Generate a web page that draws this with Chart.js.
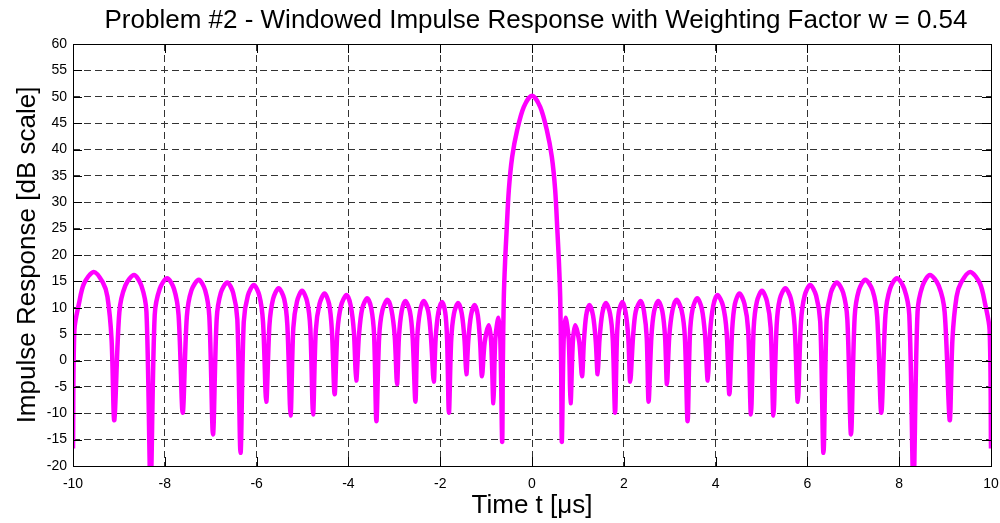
<!DOCTYPE html>
<html>
<head>
<meta charset="utf-8">
<script src="https://cdn.jsdelivr.net/npm/chart.js@4/dist/chart.umd.min.js"></script>
<style>
  html, body { margin: 0; padding: 0; background: #fff; }
  #wrap { width: 1000px; height: 523px; }
</style>
</head>
<body>
<div id="wrap"><canvas id="impulse"></canvas></div>
<script>
// values (time in microseconds, response in dB)
const timeUs = [
  -10.00, -9.97, -9.87, -9.76, -9.55, -9.35, -9.25, -9.16, -9.10,
  -8.99, -8.86, -8.67, -8.51, -8.40, -8.31,
  -8.22, -8.11, -7.95, -7.80, -7.70, -7.61,
  -7.52, -7.42, -7.26, -7.12, -7.03, -6.95,
  -6.87, -6.78, -6.64, -6.51, -6.42, -6.35,
  -6.28, -6.19, -6.06, -5.94, -5.86, -5.79,
  -5.72, -5.64, -5.52, -5.40, -5.33, -5.26,
  -5.20, -5.12, -5.01, -4.90, -4.83, -4.77,
  -4.71, -4.63, -4.52, -4.42, -4.36, -4.30,
  -4.24, -4.16, -4.04, -3.95, -3.88, -3.83,
  -3.77, -3.70, -3.59, -3.50, -3.44, -3.39,
  -3.33, -3.26, -3.15, -3.06, -2.99, -2.94,
  -2.90, -2.84, -2.76, -2.66, -2.60, -2.54,
  -2.50, -2.44, -2.36, -2.26, -2.20, -2.14,
  -2.10, -2.04, -1.96, -1.89, -1.85, -1.81,
  -1.76, -1.70, -1.61, -1.53, -1.47, -1.43,
  -1.39, -1.33, -1.25, -1.18, -1.13, -1.09,
  -1.03, -0.94, -0.89, -0.84, -0.80, -0.73, -0.69, -0.65,
  -0.635, -0.614, -0.585, -0.556, -0.505, -0.432, -0.323, -0.178, 0,
  0.178, 0.323, 0.432, 0.505, 0.556, 0.585, 0.614, 0.635,
  0.65, 0.69, 0.73, 0.80, 0.84, 0.89, 0.94, 1.03, 1.09,
  1.13, 1.18, 1.25, 1.33, 1.39, 1.43,
  1.47, 1.53, 1.61, 1.70, 1.76, 1.81,
  1.85, 1.89, 1.97, 2.04, 2.10, 2.14,
  2.20, 2.26, 2.37, 2.44, 2.50, 2.54,
  2.60, 2.66, 2.75, 2.84, 2.90, 2.94,
  2.99, 3.06, 3.15, 3.26, 3.33, 3.39,
  3.44, 3.50, 3.60, 3.70, 3.77, 3.83,
  3.88, 3.95, 4.04, 4.16, 4.24, 4.30,
  4.36, 4.42, 4.52, 4.63, 4.71, 4.77,
  4.83, 4.90, 5.01, 5.12, 5.20, 5.26,
  5.33, 5.40, 5.52, 5.64, 5.72, 5.79,
  5.86, 5.94, 6.06, 6.19, 6.28, 6.35,
  6.42, 6.51, 6.64, 6.78, 6.87, 6.95,
  7.03, 7.12, 7.26, 7.42, 7.52, 7.61,
  7.70, 7.80, 7.95, 8.11, 8.22, 8.31,
  8.40, 8.51, 8.67, 8.86, 8.99, 9.10,
  9.16, 9.25, 9.35, 9.55, 9.76, 9.87, 9.97, 10.00
];
const responseDb = [
  -16.7, 5.8, 10.8, 14.6, 16.8, 14.8, 12.1, 4.0, -11.3,
  9.2, 14.2, 16.2, 14.2, 9.2, -24,
  8.6, 13.6, 15.6, 13.6, 8.6, -9.9,
  8.3, 13.3, 15.3, 13.3, 8.3, -14.0,
  7.8, 12.8, 14.8, 12.8, 7.8, -17.5,
  7.3, 12.3, 14.3, 12.3, 7.3, -7.8,
  6.7, 11.7, 13.7, 11.7, 6.7, -10.4,
  6.2, 11.2, 13.2, 11.2, 6.2, -10.2,
  5.7, 10.7, 12.7, 10.7, 5.7, -6.4,
  5.4, 10.4, 12.4, 10.4, 5.4, -3.8,
  4.8, 9.8, 11.8, 9.8, 4.8, -11.5,
  4.5, 9.5, 11.5, 9.5, 4.5, -4.5,
  4.3, 9.3, 11.3, 9.3, 4.3, -7.8,
  4.3, 9.3, 11.3, 9.3, 4.3, -4.0,
  4.1, 9.1, 11.1, 9.1, 4.1, -9.9,
  3.9, 8.9, 10.9, 8.9, 3.9, -2.6,
  3.5, 8.5, 10.5, 8.5, 3.5, -3.0,
  3.5, 6.7, 3.5, -8.1, 4.0, 8.1, 4.0, -15.4,
  -0.6, 12.1, 19.0, 24.1, 32.3, 38.6, 43.7, 48.1, 50.2,
  48.1, 43.7, 38.6, 32.3, 24.1, 19.0, 12.1, -0.6,
  -15.4, 4.0, 8.1, 4.0, -8.1, 3.5, 6.7, 3.5, -3.0,
  3.5, 8.5, 10.5, 8.5, 3.5, -2.6,
  3.9, 8.9, 10.9, 8.9, 3.9, -9.9,
  4.1, 9.1, 11.1, 9.1, 4.1, -4.0,
  4.3, 9.3, 11.3, 9.3, 4.3, -7.8,
  4.3, 9.3, 11.3, 9.3, 4.3, -4.5,
  4.5, 9.5, 11.5, 9.5, 4.5, -11.5,
  4.8, 9.8, 11.8, 9.8, 4.8, -3.8,
  5.4, 10.4, 12.4, 10.4, 5.4, -6.4,
  5.7, 10.7, 12.7, 10.7, 5.7, -10.2,
  6.2, 11.2, 13.2, 11.2, 6.2, -10.4,
  6.7, 11.7, 13.7, 11.7, 6.7, -7.8,
  7.3, 12.3, 14.3, 12.3, 7.3, -17.5,
  7.8, 12.8, 14.8, 12.8, 7.8, -14.0,
  8.3, 13.3, 15.3, 13.3, 8.3, -9.9,
  8.6, 13.6, 15.6, 13.6, 8.6, -24,
  9.2, 14.2, 16.2, 14.2, 9.2, -11.3,
  4.0, 12.1, 14.8, 16.8, 14.6, 10.8, 5.8, -16.7
];
const xTickValues = [-10, -8, -6, -4, -2, 0, 2, 4, 6, 8, 10];
const yTickValues = [-20, -15, -10, -5, 0, 5, 10, 15, 20, 25, 30, 35, 40, 45, 50, 55, 60];
const chartTitle = 'Problem #2 - Windowed Impulse Response with Weighting Factor w = 0.54';

const fontFamily = '"Liberation Sans", Arial, Helvetica, sans-serif';

let points = timeUs.map((t, i) => ({ x: t, y: responseDb[i] }));

// matlab style box round the axes with inward ticks, title centred over the axes
const boxTicks = {
  id: 'boxTicks',
  afterDatasetsDraw(chart) {
    let ctx = chart.ctx;
    let a = chart.chartArea;
    let xs = chart.scales.x;
    let ys = chart.scales.y;
    let len = 9;
    ctx.save();
    ctx.strokeStyle = '#000';
    ctx.lineWidth = 1;
    ctx.beginPath();
    xTickValues.forEach(v => {
      let px = Math.round(xs.getPixelForValue(v)) + 0.5;
      ctx.moveTo(px, a.bottom); ctx.lineTo(px, a.bottom - len);
      ctx.moveTo(px, a.top); ctx.lineTo(px, a.top + len);
    });
    yTickValues.forEach(v => {
      let py = Math.round(ys.getPixelForValue(v)) + 0.5;
      ctx.moveTo(a.left, py); ctx.lineTo(a.left + len, py);
      ctx.moveTo(a.right, py); ctx.lineTo(a.right - len, py);
    });
    ctx.stroke();
    ctx.strokeRect(Math.round(a.left) + 0.5, Math.round(a.top) + 0.5,
      Math.round(a.right - a.left), Math.round(a.bottom - a.top));

    ctx.fillStyle = '#000';
    ctx.font = '26px ' + fontFamily;
    ctx.textAlign = 'center';
    ctx.textBaseline = 'alphabetic';
    ctx.fillText(chartTitle, (a.left + a.right) / 2 + 4, 28);
    ctx.restore();
  }
};

new Chart(document.getElementById('impulse'), {
  type: 'line',
  data: {
    datasets: [{
      data: points,
      borderColor: '#ff00ff',
      borderWidth: 4.5,
      pointRadius: 0,
      tension: 0.3,
      fill: false,
      clip: 0
    }]
  },
  options: {
    responsive: true,
    maintainAspectRatio: false,
    animation: false,
    events: [],
    layout: { padding: { left: 0, right: 9, top: 44, bottom: 0 } },
    plugins: {
      legend: { display: false },
      tooltip: { enabled: false },
      title: { display: false }
    },
    scales: {
      x: {
        type: 'linear',
        min: -10,
        max: 10,
        afterBuildTicks: s => { s.ticks = xTickValues.map(v => ({ value: v })); },
        afterFit: s => { s.height = 57; s.paddingLeft = 0; s.paddingRight = 0; },
        grid: { color: '#333', lineWidth: 1, drawTicks: false },
        border: { display: false, dash: [7, 4] },
        ticks: { color: '#000', padding: 10, font: { family: fontFamily, size: 14 } },
        title: {
          display: true,
          text: 'Time t [μs]',
          color: '#000',
          font: { family: fontFamily, size: 26 },
          padding: { top: 0, bottom: 2 }
        }
      },
      y: {
        min: -20,
        max: 60,
        afterBuildTicks: s => { s.ticks = yTickValues.map(v => ({ value: v })); },
        afterFit: s => { s.width = 73; s.paddingTop = 0; s.paddingBottom = 0; },
        grid: { color: '#333', lineWidth: 1, drawTicks: false },
        border: { display: false, dash: [7, 4] },
        ticks: { color: '#000', padding: 6, font: { family: fontFamily, size: 14 } },
        title: {
          display: true,
          text: 'Impulse Response [dB scale]',
          color: '#000',
          font: { family: fontFamily, size: 26 },
          padding: { top: 12, bottom: 0 }
        }
      }
    }
  },
  plugins: [boxTicks]
});
</script>
</body>
</html>
